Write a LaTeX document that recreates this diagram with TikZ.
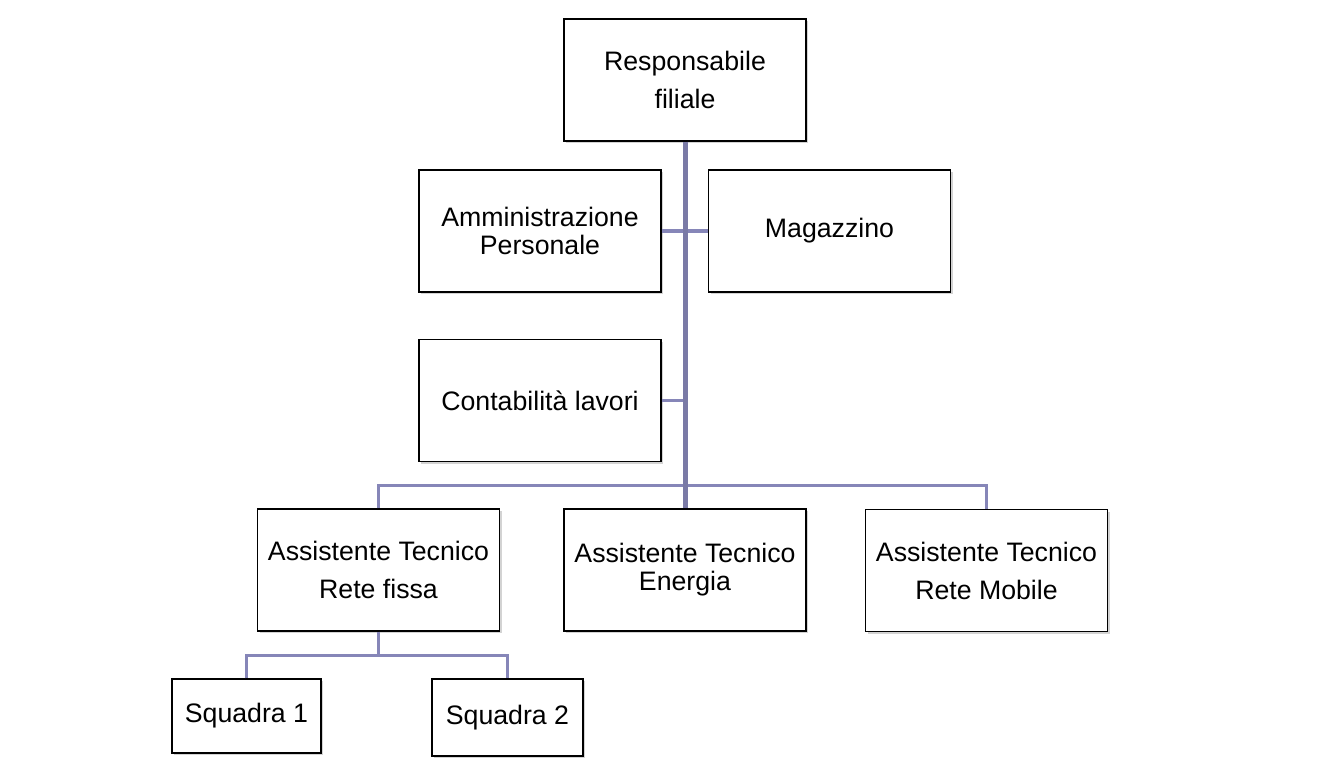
\documentclass[tikz,border=0pt]{standalone}
\usepackage{fontspec}
\setmainfont{Liberation Sans}
\usetikzlibrary{shadows}
\definecolor{trunkc}{RGB}{122,122,166}
\definecolor{branchc}{RGB}{134,134,184}
\begin{document}
\begin{tikzpicture}[x=1pt,y=-1pt,
  box/.style={draw=black, line width=1.4pt, fill=white, align=center, inner sep=0pt,
    minimum width=242pt, minimum height=122pt,
    drop shadow={opacity=0.35, shadow xshift=2pt, shadow yshift=-2pt}},
  wide/.style={font=\fontsize{26.7}{38}\selectfont},
  tight/.style={font=\fontsize{26.7}{28}\selectfont},
  trunk/.style={draw=trunkc, line width=5pt},
  branch/.style={draw=branchc, line width=3.5pt}]
\useasboundingbox (0,0) rectangle (1317,768);
\node[box,wide]  (resp) at (685,80)    {Responsabile\\filiale};
\node[box,tight] (amm)  at (540,231)   {Amministrazione\\Personale};
\node[box,tight] (mag)  at (829.5,231) {Magazzino};
\node[box,tight] (cont) at (540,400.5) {Contabilità lavori};
\node[box,wide]  (atf)  at (378.5,570) {Assistente Tecnico\\Rete fissa};
\node[box,tight] (ate)  at (685,570)   {Assistente Tecnico\\Energia};
\node[box,wide]  (atm)  at (986.5,570.5) {Assistente Tecnico\\Rete Mobile};
\node[box,tight,minimum width=149pt,minimum height=74pt] (sq1) at (246.5,716) {Squadra 1};
\node[box,tight,minimum width=151pt,minimum height=77pt] (sq2) at (507.5,717.5) {Squadra 2};
\coordinate (bus) at ([yshift=23pt]ate.north);
\coordinate (fork) at ([yshift=-24pt]atf.south);
\draw[branch] (amm.east) -- (mag.west);
\draw[branch] (cont.east) -- (cont.east -| resp.south);
\draw[branch] (atf.north) |- (bus) -| (atm.north);
\draw[branch] (atf.south) -- (fork);
\draw[branch] (sq1.north) |- (fork) -| (sq2.north);
\draw[trunk] (resp.south) -- (ate.north);
\end{tikzpicture}
\end{document}
